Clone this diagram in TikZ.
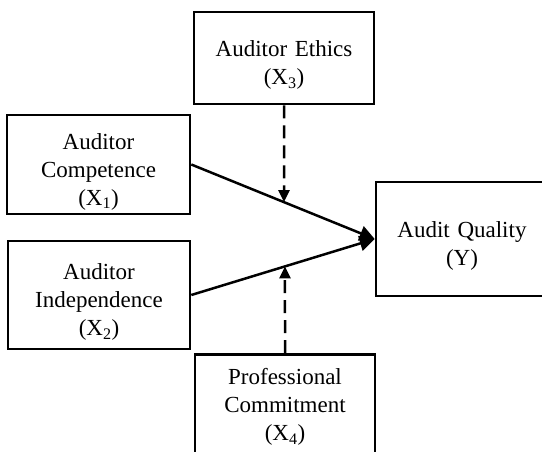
\documentclass[tikz,border=0pt]{standalone}
\usepackage{fontspec}
\setmainfont{Liberation Serif}
\usetikzlibrary{arrows.meta,positioning,calc}
\tikzset{%
  factor/.style={draw, line width=2.6pt, text width=172pt, align=center, minimum width=180pt, inner sep=0pt,
    font=\fontsize{23}{28}\selectfont, execute at begin node={\rule{0pt}{30pt}}},
  line/.style={draw, line width=2.5pt, -{Triangle[length=15pt,width=15pt]}},
  linepart/.style={draw, line width=2.5pt, dash pattern=on 13pt off 7pt, -{Triangle[length=12pt,width=11pt]}},
}

\begin{document}
\begin{tikzpicture}[x=1pt,y=-1pt]
  \useasboundingbox (0,0) rectangle (542,452);

  \node (ethics) [factor, minimum height=92pt] at (284,58) {Auditor Ethics\\ (X\textsubscript{3})};
  \node (comp) [factor, minimum width=183pt, minimum height=99pt] at (98.5,164.5) {Auditor\\ Competence\\ (X\textsubscript{1})};
  \node (indep) [factor, minimum width=182pt, minimum height=108pt] at (99,295) {Auditor\\ Independence\\ (X\textsubscript{2})};
  \node (qual) [factor, minimum width=172pt, text width=165pt, minimum height=114pt] at (462,239) {Audit Quality\\ (Y)};
  % runs off the bottom edge
  \node (commit) [factor, minimum height=114pt, text depth=89pt] at (285,414) {Professional\\ Commitment\\ (X\textsubscript{4})};

  \path [line] (comp.east) -- (qual.west);
  \path [line] (indep.east) -- (qual.west);

  % moderators hit the lines
  \coordinate (m1) at (intersection of ethics.north--ethics.south and comp.east--qual.west);
  \coordinate (m2) at (intersection of commit.north--commit.south and indep.east--qual.west);
  \path [linepart] (ethics.south) -- (m1);
  \path [linepart] (commit.north) -- (m2);
\end{tikzpicture}
\end{document}
